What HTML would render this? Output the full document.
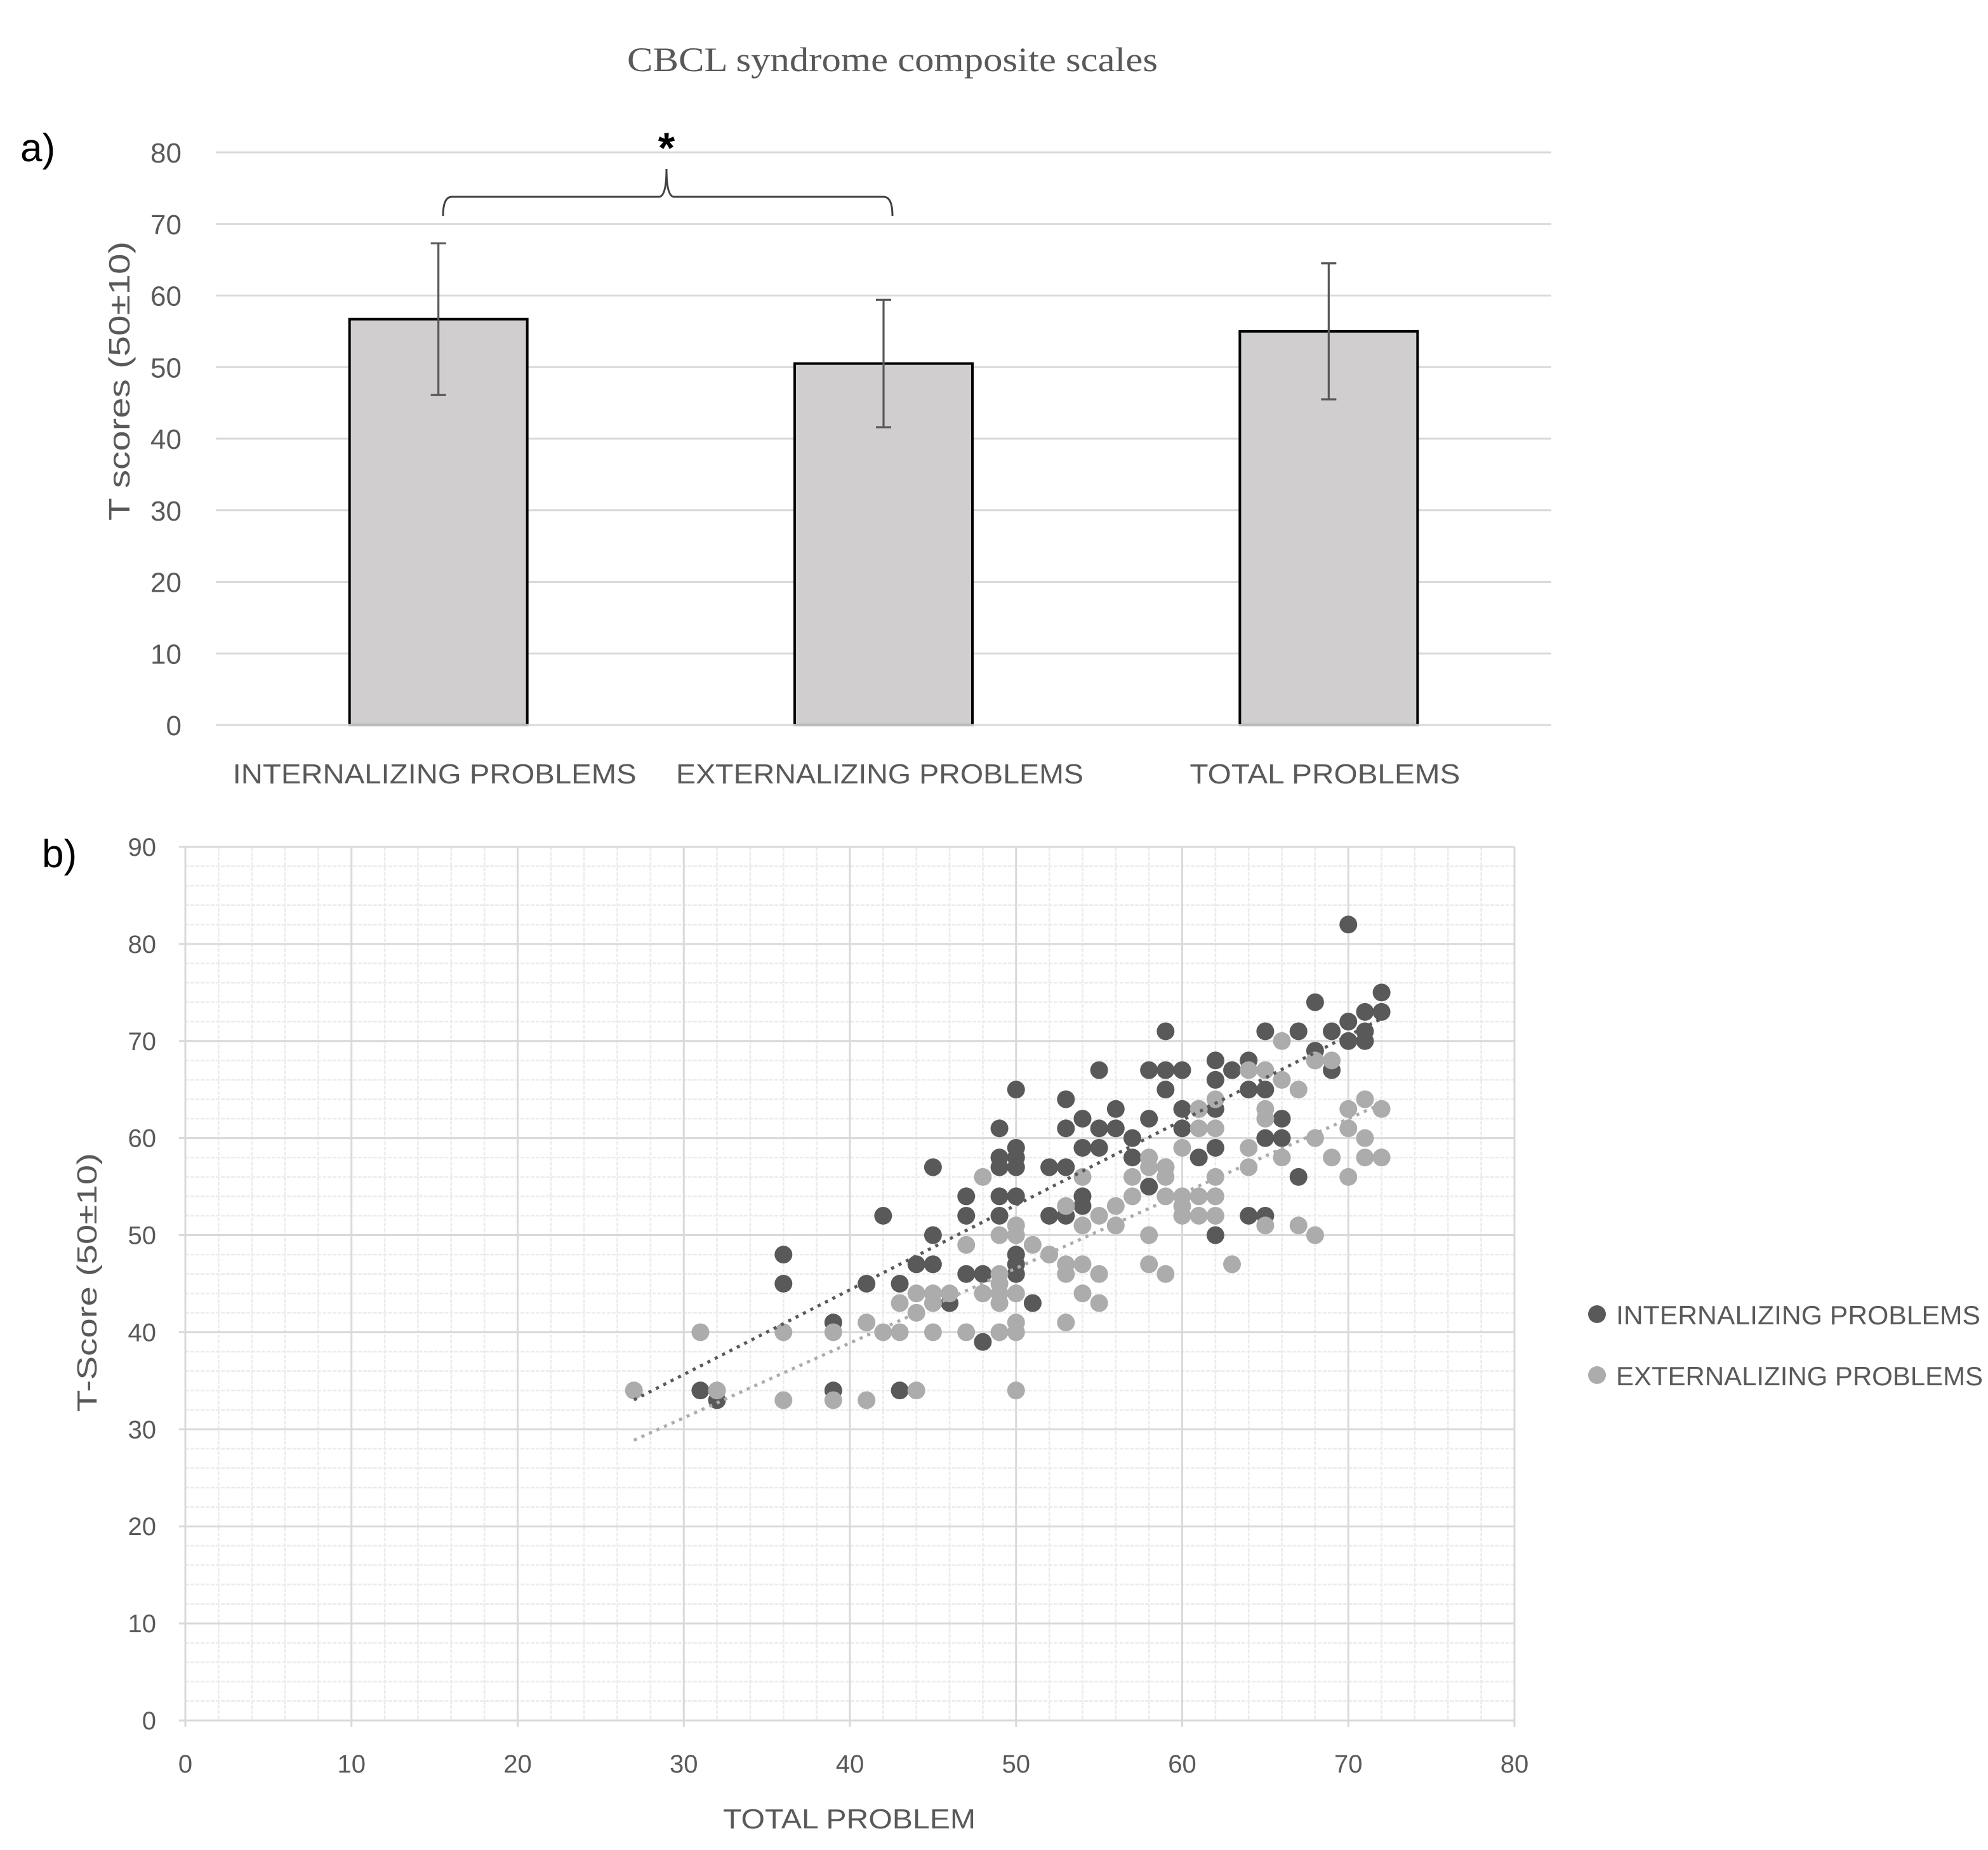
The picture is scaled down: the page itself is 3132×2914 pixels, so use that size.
<!DOCTYPE html>
<html><head><meta charset="utf-8"><style>
html,body{margin:0;padding:0;background:#fff}
svg{display:block}
text{font-family:"Liberation Sans","DejaVu Sans",sans-serif;fill:#595959}
</style></head><body>
<svg id="chart" width="3132" height="2914" viewBox="0 0 1566 1457" xmlns="http://www.w3.org/2000/svg">
<text x="703" y="56" text-anchor="middle" textLength="418" lengthAdjust="spacingAndGlyphs" style="font-family:'Liberation Serif',serif;font-size:27px">CBCL syndrome composite scales</text>
<text x="16" y="127" style="font-size:31px;fill:#000">a)</text>
<text x="33" y="683" style="font-size:31px;fill:#000">b)</text>
<g id="bar"></g>
<g id="sc"></g>
</svg>
<script>
// ---- bar chart data ----
const barCategories=["INTERNALIZING PROBLEMS","EXTERNALIZING PROBLEMS","TOTAL PROBLEMS"];
const barMeans=[56.7,50.5,55.0];
const barErrors=[10.6,8.9,9.5];
const barTicks=[0,10,20,30,40,50,60,70,80];
// ---- scatter data ----
const intX=[31,32,36,36,39,39,41,42,43,43,44,45,45,45,46,47,47,47,48,48,49,49,49,49,49,50,50,50,50,50,50,50,50,51,52,52,53,53,53,53,54,54,54,54,55,55,55,56,56,57,57,58,58,58,59,59,59,59,60,60,60,61,61,62,62,62,62,62,63,64,64,64,65,65,65,65,66,66,67,67,68,68,68,69,69,70,70,70,71,71,71,72,72];
const intY=[34,33,48,45,41,34,45,52,45,34,47,57,50,47,43,54,52,46,46,39,61,58,54,52,57,65,59,58,57,54,48,47,46,43,57,52,64,61,57,52,62,59,54,53,67,61,59,63,61,60,58,67,62,55,71,67,65,57,67,63,61,58,63,68,66,63,59,50,67,68,65,52,71,65,60,52,62,60,71,56,74,69,68,71,67,82,72,70,73,71,70,75,73];
const extX=[27,31,32,36,36,39,39,41,41,42,43,43,44,44,44,45,45,45,46,47,47,48,48,49,49,49,49,49,49,50,50,50,50,50,50,51,52,53,53,53,53,54,54,54,54,55,55,55,56,56,57,57,58,58,58,58,59,59,59,59,60,60,60,60,61,61,61,61,62,62,62,62,62,63,64,64,64,65,65,65,65,66,66,66,67,67,68,68,68,69,69,70,70,70,71,71,71,72,72];
const extY=[34,40,34,40,33,40,33,33,41,40,43,40,44,42,34,44,43,40,44,49,40,56,44,50,46,45,44,43,40,51,50,44,41,40,34,49,48,53,47,46,41,56,51,47,44,52,46,43,53,51,56,54,58,57,50,47,57,56,54,46,59,54,53,52,63,61,54,52,64,61,56,54,52,47,67,59,57,67,63,62,51,70,66,58,65,51,68,60,50,68,58,63,61,56,64,60,58,63,58];
const scXTicks=[0,10,20,30,40,50,60,70,80];
const scYTicks=[0,10,20,30,40,50,60,70,80,90];

const NS="http://www.w3.org/2000/svg";
function mk(parent,tag,attrs,txt){const e=document.createElementNS(NS,tag);for(const k in attrs)e.setAttribute(k,attrs[k]);if(txt!==undefined)e.textContent=txt;parent.appendChild(e);return e;}

// ---- bar chart ----
const bar=document.getElementById('bar');
const bL=170,bR=1222,bTop=120,bBot=571;
const by=v=>bBot-(v/80)*(bBot-bTop);
const bandW=(bR-bL)/barCategories.length;
const bx=i=>bL+bandW*(i+0.5);
const catLen=[318,321,213];
barTicks.forEach(t=>{
  const l=mk(bar,'line',{x1:bL,x2:bR,y1:by(t),y2:by(t),stroke:'#d9d9d9','stroke-width':1.5});
  
  
  const tx=mk(bar,'text',{x:143,y:by(t)+8,'text-anchor':'end','font-size':22},String(t));
  
  
});
const yt=mk(bar,'text',{x:0,y:0,'text-anchor':'middle','font-size':23,textLength:220,lengthAdjust:'spacingAndGlyphs',transform:`translate(102,300) rotate(-90)`},'T scores (50±10)');


barCategories.forEach((c,i)=>{
  const cx=bx(i),w=140;
  const r=mk(bar,'rect',{x:cx-w/2,y:by(barMeans[i]),width:w,height:bBot-by(barMeans[i]),fill:'#d0cece',stroke:'#000','stroke-width':2});
  
  
  const top=by(barMeans[i]+barErrors[i]),bot=by(barMeans[i]-barErrors[i]);
  const eb=mk(bar,'path',{d:`M${cx},${top}V${bot}M${cx-6},${top}H${cx+6}M${cx-6},${bot}H${cx+6}`,stroke:'#595959','stroke-width':1.6,fill:'none'});
  
  
  const lb=mk(bar,'text',{x:cx-3,y:617,'text-anchor':'middle','font-size':22,textLength:catLen[i],lengthAdjust:'spacingAndGlyphs'},c);
  
  
});
const ax=mk(bar,'line',{x1:bL,x2:bR,y1:bBot,y2:bBot,stroke:'#d9d9d9','stroke-width':1.5});


const br=mk(bar,'path',{d:`M349,170 Q349,155 356,155 H519 Q525,155 525,133 Q525,155 531,155 H696 Q703,155 703,170`,stroke:'#404040','stroke-width':1.5,fill:'none'});


const st=mk(bar,'text',{x:525,y:128,'text-anchor':'middle','font-size':34,style:'fill:#000;font-weight:bold'},'*');



// ---- scatter ----
const sc=document.getElementById('sc');
const sL=146,sR=1193,sT=667,sB=1355;
const sx=v=>sL+(v/80)*(sR-sL);
const sy=v=>sB-(v/90)*(sB-sT);
for(let v=0;v<=80;v+=2){if(v%10){const l=mk(sc,'line',{x1:sx(v),x2:sx(v),y1:sT,y2:sB,stroke:'#ececec','stroke-width':1.3,'stroke-dasharray':'3,1'});}}
for(let v=0;v<=90;v+=2){if(v%10){const l=mk(sc,'line',{x1:sL,x2:sR,y1:sy(v),y2:sy(v),stroke:'#ececec','stroke-width':1.3,'stroke-dasharray':'3,1'});}}
scXTicks.forEach(t=>{
  const l=mk(sc,'line',{x1:sx(t),x2:sx(t),y1:sT,y2:sB+5,stroke:'#d9d9d9','stroke-width':1.5});
  
  
  const tx=mk(sc,'text',{x:sx(t),y:1396,'text-anchor':'middle','font-size':20},String(t));
  
  
});
scYTicks.forEach(t=>{
  const l=mk(sc,'line',{x1:sL-5,x2:sR,y1:sy(t),y2:sy(t),stroke:'#d9d9d9','stroke-width':1.5});
  
  
  const tx=mk(sc,'text',{x:123,y:sy(t)+7,'text-anchor':'end','font-size':20},String(t));
  
  
});
const xt=mk(sc,'text',{x:669,y:1440,'text-anchor':'middle','font-size':22,textLength:199,lengthAdjust:'spacingAndGlyphs'},'TOTAL PROBLEM');


const yt2=mk(sc,'text',{x:0,y:0,'text-anchor':'middle','font-size':22,textLength:204,lengthAdjust:'spacingAndGlyphs',transform:`translate(76,1010) rotate(-90)`},'T-Score (50±10)');


function fit(X,Y){const n=X.length;let mx=0,my=0;for(let i=0;i<n;i++){mx+=X[i];my+=Y[i];}mx/=n;my/=n;let a=0,b=0;for(let i=0;i<n;i++){a+=(X[i]-mx)*(Y[i]-my);b+=(X[i]-mx)**2;}const s=a/b;return [s,my-s*mx];}
function series(X,Y,col,name){
  for(let i=0;i<X.length;i++){
    const c=mk(sc,'circle',{cx:sx(X[i]),cy:sy(Y[i]),r:7,fill:col});
    
    
  }
}
series(intX,intY,'#595959','internalizing');
series(extX,extY,'#acacac','externalizing');
const allX=intX.concat(extX);
function trend(X,Y,col,name){
  const [s,b]=fit(X,Y);const x0=Math.min(...allX),x1=Math.max(...allX);
  const l=mk(sc,'line',{x1:sx(x0),y1:sy(s*x0+b),x2:sx(x1),y2:sy(s*x1+b),stroke:col,'stroke-width':2.5,'stroke-dasharray':'2.5,4'});
  
  
}
trend(intX,intY,'#595959','internalizing');
trend(extX,extY,'#acacac','externalizing');
[['INTERNALIZING PROBLEMS','#595959',1035,287],['EXTERNALIZING PROBLEMS','#acacac',1083,289]].forEach(([t,c,y,len])=>{
  const m=mk(sc,'circle',{cx:1258,cy:y,r:7,fill:c});
  
  
  const tx=mk(sc,'text',{x:1273,y:y+8,'font-size':21,textLength:len,lengthAdjust:'spacingAndGlyphs'},t);
  
  
});
</script>
</body></html>
